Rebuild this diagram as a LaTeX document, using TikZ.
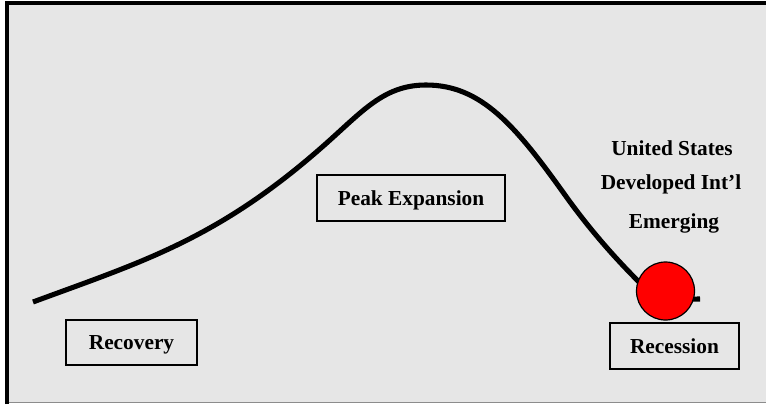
\documentclass[tikz,border=0pt]{standalone}
\usepackage{fontspec}
\setmainfont{Liberation Serif}
\definecolor{bggray}{HTML}{E6E6E6}
\definecolor{edgegray}{HTML}{8C8C8C}
\tikzset{
  lbl/.style={font=\fontsize{16}{19}\selectfont\bfseries, inner sep=0pt},
  phasebox/.style={lbl, draw=black, line width=1.3pt, fill=bggray, minimum height=34pt, text height=11pt, text depth=0pt},
  cycle/.style={line width=3.8pt, line join=round},
  ball/.style={circle, draw=black, line width=0.9pt, fill=red, inner sep=0pt, minimum size=43.5pt}
}
\begin{document}
\begin{tikzpicture}[x=0.75pt, y=-0.75pt]
\useasboundingbox (0,0) rectangle (766,404);
% frame
\fill[bggray] (7,3) rectangle (766,402);
\draw[edgegray, line width=1.2pt] (7,402.5) -- (766,402.5);
\draw[black, line width=3pt] (7,404) -- (7,3) -- (766,3);
% curve
\draw[cycle] (33,302) .. controls (143,261.3) and (220,239) .. (330,140)
  .. controls (365,108.5) and (386,85) .. (426,85)
  .. controls (481,85) and (515,125) .. (565,195)
  .. controls (590,230) and (615,258) .. (640,283)
  .. controls (660,303) and (675,299) .. (700,299);
% ball
\node[ball] (ball) at (665.5,291) {};
% boxes
\node[phasebox, minimum width=98.25pt] (recovery) at (131.5,342.5) {Recovery};
\node[phasebox, minimum width=141pt] (peak) at (411,198) {Peak Expansion};
\node[phasebox, minimum width=96.75pt] (recession) at (674.5,346) {Recession};
% legend text
\node[lbl, anchor=base] (us) at (672,155) {United States};
\node[lbl, anchor=base] (dev) at (671,189) {Developed Int’l};
\node[lbl, anchor=base] (em) at (674,228) {Emerging};
\end{tikzpicture}
\end{document}
